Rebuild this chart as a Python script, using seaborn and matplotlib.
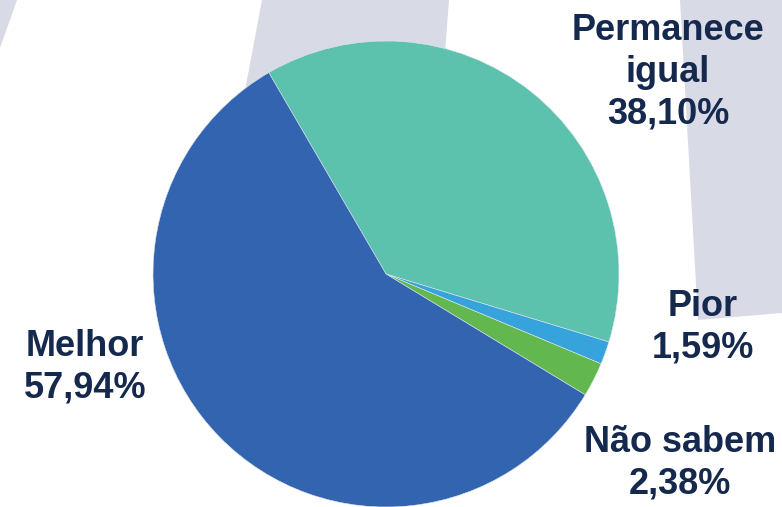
import matplotlib
matplotlib.use("Agg")
import matplotlib.pyplot as plt
import seaborn as sns
from matplotlib.patches import Polygon

# ---- data ----
categories = ["Permanece\nigual", "Pior", "Não sabem", "Melhor"]
values = [38.10, 1.59, 2.38, 57.94]
label_texts = ["38,10%", "1,59%", "2,38%", "57,94%"]
colors = ["#5CC1AD", "#36A3DD", "#62B84E", "#3364B0"]

sns.set_theme(style="white")
plt.rcParams['font.family'] = ['Liberation Sans', 'DejaVu Sans']

W, H = 782, 507
fig = plt.figure(figsize=(W / 100, H / 100), dpi=100)
ax = fig.add_axes([0, 0, 1, 1])

# pie (center & radius in pixel units, y measured upward)
cx, cy, r = 386, H - 274, 233
ax.pie(values, colors=sns.color_palette(colors), startangle=120.2,
       counterclock=False, center=(cx, cy), radius=r,
       wedgeprops=dict(linewidth=0.4, edgecolor="#dfe6ee", zorder=3))

ax.set_xlim(0, W)
ax.set_ylim(0, H)
ax.set_aspect("equal")
ax.axis("off")

# faint background watermark shapes
wm = "#D8DAE6"
shapes = [
    [(0, 0), (17, 0), (0, 48)],
    [(262, 0), (449, 0), (430, 250), (215, 250)],
    [(680, 0), (782, 0), (782, 313), (698, 320)],
]
for pts in shapes:
    ax.add_patch(Polygon([(x, H - y) for x, y in pts], closed=True,
                         facecolor=wm, edgecolor="none", zorder=1))

# labels
txt_color = "#15284D"
positions = [(668, 72), (703, 327), (680, 463), (85, 367)]
for cat, lab, (x, y) in zip(categories, label_texts, positions):
    ax.text(x, H - y, f"{cat}\n{lab}", ha="center", va="center",
            fontsize=26, fontweight="bold", color=txt_color,
            linespacing=1.25, zorder=5)

fig.savefig("out.png", dpi=100)
